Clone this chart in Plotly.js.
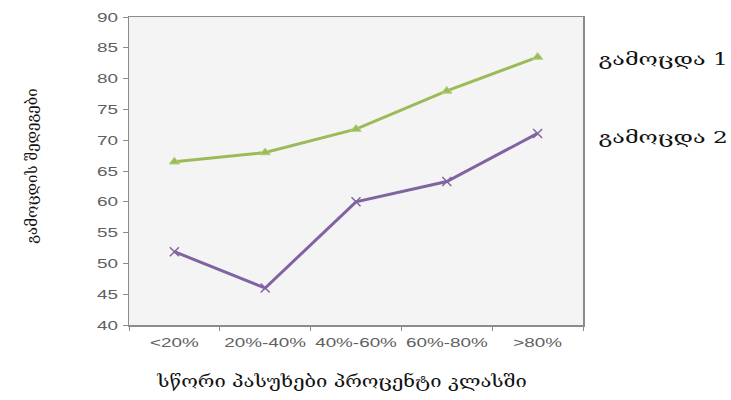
<!DOCTYPE html>
<html>
<head>
<meta charset="utf-8">
<script src="https://cdn.plot.ly/plotly-3.0.1.min.js"></script>
<style>
  html, body { margin: 0; padding: 0; background: #ffffff; }
  #chart { width: 731px; height: 400px; }
</style>
</head>
<body>
<div id="chart"></div>
<script>
// Score groups: share of correct answers in the class
const categories = ['<20%', '20%-40%', '40%-60%', '60%-80%', '>80%'];
// Average results for each exam
const exam1 = [66.5, 68, 71.8, 78, 83.5];
const exam2 = [51.9, 46, 60, 63.3, 71.1];
const seriesNames = ['გამოცდა 1', 'გამოცდა 2'];
const yTicks = [40, 45, 50, 55, 60, 65, 70, 75, 80, 85, 90];

const green = '#9bbb59';
const purple = '#8064a2';
const axisGray = '#8c8c8c';
const labelFont = { family: 'Liberation Sans, Arial, sans-serif', size: 13, color: '#606060' };
const xTitleFont = { family: 'DejaVu Serif, serif', size: 16, color: '#111111' };
const yTitleFont = { family: 'DejaVu Serif, serif', size: 15, color: '#111111' };
const seriesFont = { family: 'DejaVu Serif, serif', size: 17, color: '#111111' };

const traces = [
  {
    x: categories, y: exam1, name: seriesNames[0], type: 'scatter', mode: 'lines+markers',
    line: { color: green, width: 3 },
    marker: { symbol: 'triangle-up', size: 9, color: green, line: { color: '#b5d17a', width: 1 } }
  },
  {
    x: categories, y: exam2, name: seriesNames[1], type: 'scatter', mode: 'lines+markers',
    line: { color: purple, width: 3 },
    marker: { symbol: 'x-thin', size: 9, color: purple, line: { color: purple, width: 1.5 } }
  }
];

const layout = {
  width: 731, height: 400,
  margin: { l: 129, r: 148, t: 17, b: 75 },
  paper_bgcolor: '#ffffff',
  plot_bgcolor: '#f4f4f4',
  showlegend: false,
  xaxis: {
    type: 'category',
    range: [-0.5, 4.5],
    showline: true, linecolor: axisGray, linewidth: 1.5, mirror: true,
    showgrid: false, zeroline: false,
    ticks: 'outside', ticklen: 4, tickcolor: axisGray, tickson: 'boundaries',
    ticklabelstandoff: 5,
    tickfont: labelFont,
    title: { text: 'სწორი პასუხები პროცენტი კლასში', font: xTitleFont, standoff: 26 }
  },
  yaxis: {
    range: [40, 90],
    tickvals: yTicks,
    showline: true, linecolor: axisGray, linewidth: 1.5, mirror: true,
    showgrid: false, zeroline: false,
    ticks: 'outside', ticklen: 5, tickcolor: axisGray,
    ticklabelstandoff: 2,
    tickfont: labelFont,
    title: { text: 'გამოცდის შედეგები', font: yTitleFont, standoff: 62 }
  },
  annotations: [
    { xref: 'paper', yref: 'y', x: 1.176, y: exam1[4] - 0.3, xanchor: 'center', yanchor: 'middle',
      text: seriesNames[0], showarrow: false, font: seriesFont },
    { xref: 'paper', yref: 'y', x: 1.176, y: 70.6, xanchor: 'center', yanchor: 'middle',
      text: seriesNames[1], showarrow: false, font: seriesFont }
  ]
};

// Widen horizontal text runs so the lettering has the broad proportions of the chart's style
function widen(selector, factor) {
  document.querySelectorAll(selector).forEach(function (el) {
    const len = el.getComputedTextLength();
    if (len > 0) {
      el.setAttribute('textLength', (len * factor).toFixed(2));
      el.setAttribute('lengthAdjust', 'spacingAndGlyphs');
    }
  });
}

Plotly.newPlot('chart', traces, layout, { displayModeBar: false, staticPlot: true }).then(function () {
  widen('#chart .xtick text, #chart .ytick text', 1.45);
  widen('#chart .g-xtitle text', 1.26);
  widen('#chart .annotation-text', 1.37);
  // x-axis title sits slightly left of the plot centre
  const xt = document.querySelector('#chart .g-xtitle');
  if (xt) xt.setAttribute('transform', 'translate(-14,0)');
  // y-axis title sits a little higher
  const yt = document.querySelector('#chart .g-ytitle');
  if (yt) yt.setAttribute('transform', 'translate(0,-5)');
});
</script>
</body>
</html>
